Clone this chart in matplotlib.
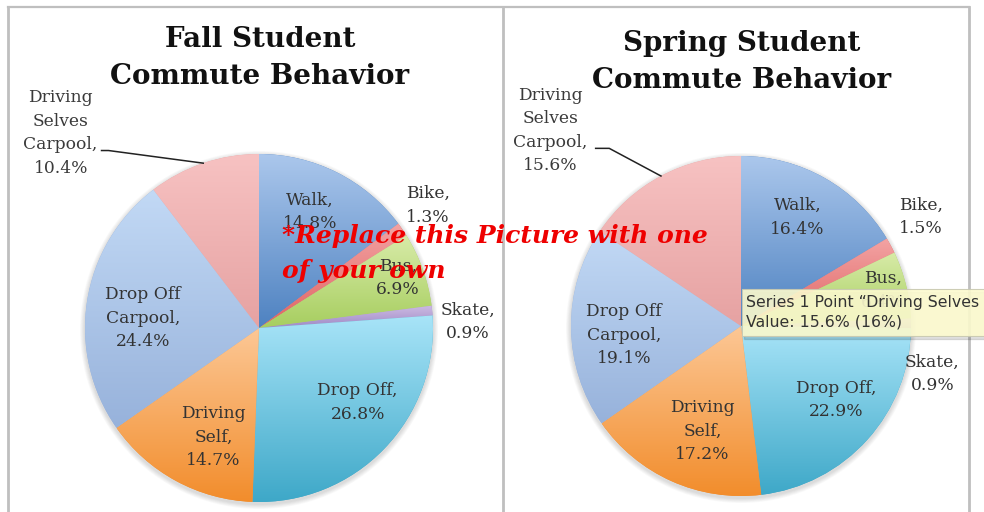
import matplotlib
matplotlib.use('Agg')
import matplotlib.pyplot as plt
import numpy as np
from matplotlib.patches import Rectangle
from matplotlib.colors import LinearSegmentedColormap

plt.rcParams['font.family'] = ['DejaVu Serif']

# data
categories = ['Walk', 'Bike', 'Bus', 'Skate', 'Drop Off', 'Driving Self',
              'Drop Off Carpool', 'Driving Selves Carpool']
fall_values = [14.8, 1.3, 6.9, 0.9, 26.8, 14.7, 24.4, 10.4]
spring_values = [16.4, 1.5, 6.4, 0.9, 22.9, 17.2, 19.1, 15.6]
fall_title = 'Fall Student\nCommute Behavior'
spring_title = 'Spring Student\nCommute Behavior'

# label text as shown (line breaks)
label_names = ['Walk,', 'Bike,', 'Bus,', 'Skate,', 'Drop Off,', 'Driving\nSelf,',
               'Drop Off\nCarpool,', 'Driving\nSelves\nCarpool,']

# gradient colours (top, bottom)
grad_colors = [('#abc7ec', '#4e82c1'), ('#f3a3a3', '#df6464'), ('#d8eba8', '#a7ce60'),
               ('#cdbbe4', '#9f8ac5'), ('#a8e4f8', '#3ea8c8'), ('#fcc795', '#f28d2c'),
               ('#c2d9f5', '#97b2db'), ('#f7c2c2', '#e6a2a2')]

W, H = 984, 512
fig = plt.figure(figsize=(W / 100, H / 100), dpi=100)
ax = fig.add_axes([0, 0, 1, 1])
ax.set_xlim(0, W)
ax.set_ylim(0, H)
ax.set_aspect('equal')
ax.axis('off')

# frames
fc = '#bfbfbf'
ax.plot([8, 969], [H - 7, H - 7], color=fc, lw=1.6)
for x in [8, 503, 969]:
    ax.plot([x, x], [0, H - 7], color=fc, lw=2.0)


def draw_pie(values, center, radius, title, title_xy, dists, outer_text, lead):
    cx, cy = center
    # soft shadow
    for k in range(6):
        sh = plt.Circle((cx, cy - 2), radius + 1 + k * 0.8, color='#000000',
                        alpha=0.025, zorder=1, lw=0)
        ax.add_patch(sh)
    wedges, _ = ax.pie(values, center=center, radius=radius, startangle=90,
                       counterclock=False, wedgeprops=dict(linewidth=0))
    for w, (c1, c2) in zip(wedges, grad_colors):
        w.set_facecolor(c2)
        w.set_zorder(2)
        ext = w.get_path().get_extents()
        cmap = LinearSegmentedColormap.from_list('g', [c2, c1])
        grad = np.linspace(0, 1, 128).reshape(-1, 1)
        im = ax.imshow(grad, cmap=cmap, origin='lower', aspect='auto',
                       extent=[ext.x0, ext.x1, ext.y0, ext.y1], zorder=3,
                       interpolation='bicubic')
        im.set_clip_path(w)
    ax.set_xlim(0, W)
    ax.set_ylim(0, H)
    for i, w in enumerate(wedges):
        mid = (w.theta1 + w.theta2) / 2
        txt = f'{label_names[i]}\n{values[i]}%'
        if dists[i] is None:
            tx, ty = outer_text
            ax.text(cx + tx * radius, cy + ty * radius, txt, ha='center', va='center',
                    fontsize=12.3, color='#3a3a3a', linespacing=1.5, zorder=6)
            m = np.deg2rad(mid)
            ex, ey = cx + radius * np.cos(m), cy + radius * np.sin(m)
            sx = cx + tx * radius + lead[0] * radius
            sy = cy + ty * radius + lead[1] * radius
            ax.plot([sx, sx + lead[2] * radius, ex], [sy, sy, ey],
                    color='#222222', lw=1.1, zorder=6)
        else:
            d, off = dists[i]
            a = np.deg2rad(mid - off)
            d = d * radius
            ax.text(cx + d * np.cos(a), cy + d * np.sin(a), txt, ha='center',
                    va='center', fontsize=12.3, color='#333333', linespacing=1.5,
                    zorder=6)
    ax.text(title_xy[0], title_xy[1], title, ha='center', va='center', fontsize=20,
            fontweight='bold', color='#111111', linespacing=1.5, zorder=6)
    return wedges


# (radius fraction, angular shift in degrees, clockwise positive)
fall_dists = [(0.73, -3), (1.2, -1.5), (0.85, 0), (1.2, 4), (0.71, -7), (0.68, -6),
              (0.67, -4), None]
spring_dists = [(0.72, -2), (1.24, -3), (0.86, 0), (1.16, 15), (0.71, -4), (0.66, -4),
                (0.69, -4), None]

draw_pie(fall_values, (259, H - 328), 174, fall_title, (260, H - 58), fall_dists,
         (-1.14, 1.12), (0.235, -0.10, 0.04))
draw_pie(spring_values, (741, H - 326), 170, spring_title, (742, H - 62), spring_dists,
         (-1.12, 1.15), (0.265, -0.105, 0.08))

# tooltip
tip_v = spring_values[-1]
ax.add_patch(Rectangle((744, H - 339), 260, 47, color='#000000', alpha=0.12, zorder=7))
ax.add_patch(Rectangle((742, H - 336), 260, 47, facecolor='#fdfbcf', edgecolor='#c8c8b0',
                       lw=0.8, alpha=0.9, zorder=8))
ax.text(746, H - 302, 'Series 1 Point \u201cDriving Selves',
        fontsize=11.3, family='DejaVu Sans', color='#333333', va='center', zorder=9)
ax.text(746, H - 322, f'Value: {tip_v}% ({round(tip_v)}%)', fontsize=11.3,
        family='DejaVu Sans', color='#333333', va='center', zorder=9)

# overlay
ax.text(282, H - 236, '*Replace this Picture with one', fontsize=18, fontweight='bold',
        style='italic', color='#ee0000', va='center', zorder=10)
ax.text(282, H - 271, 'of your own', fontsize=18, fontweight='bold',
        style='italic', color='#ee0000', va='center', zorder=10)

fig.savefig('out.png', dpi=100)
